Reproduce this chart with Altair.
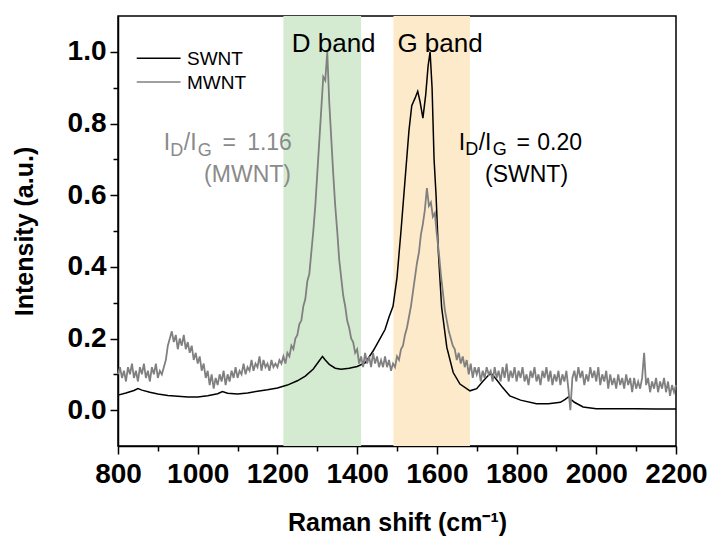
import altair as alt
import pandas as pd

FONT = "Liberation Sans, Arial, sans-serif"

# ---------------- data ----------------
swnt_x = [800, 820, 840, 850, 860, 880, 900, 925, 950, 975, 1000, 1025, 1050, 1062, 1075,
          1100, 1125, 1150, 1175, 1200, 1225, 1250, 1270, 1290, 1305, 1313, 1320, 1330,
          1345, 1360, 1380, 1400, 1420, 1440, 1455, 1470, 1480, 1490, 1500, 1510, 1520,
          1530, 1537, 1545, 1552, 1558, 1565, 1572, 1578, 1583, 1588, 1593, 1598, 1604,
          1612, 1625, 1641, 1658, 1683, 1700, 1715, 1730, 1737, 1750, 1765, 1783, 1810,
          1850, 1880, 1910, 1922, 1930, 1945, 1967, 2000, 2050, 2100, 2150, 2200]
swnt_y = [0.042, 0.048, 0.055, 0.060, 0.056, 0.050, 0.045, 0.041, 0.039, 0.037, 0.037, 0.040,
          0.046, 0.052, 0.047, 0.045, 0.048, 0.053, 0.057, 0.062, 0.070, 0.082, 0.095, 0.115,
          0.138, 0.150, 0.140, 0.128, 0.117, 0.114, 0.117, 0.122, 0.132, 0.165, 0.195, 0.225,
          0.260, 0.290, 0.370, 0.500, 0.640, 0.780, 0.850, 0.870, 0.890, 0.860, 0.815, 0.880,
          0.960, 1.000, 0.900, 0.700, 0.600, 0.436, 0.287, 0.175, 0.105, 0.073, 0.054, 0.060,
          0.080, 0.098, 0.102, 0.085, 0.063, 0.040, 0.028, 0.018, 0.018, 0.022, 0.030, 0.037,
          0.022, 0.009, 0.004, 0.004, 0.004, 0.003, 0.003]

mwnt_x = list(range(800, 2201, 5))
mwnt_y = (
    [0.10, 0.12, 0.09, 0.11, 0.08, 0.12, 0.10, 0.13, 0.09, 0.11, 0.08, 0.12, 0.10, 0.13, 0.09, 0.11, 0.08, 0.12, 0.10, 0.13]
    + [0.09, 0.11, 0.10, 0.12, 0.14, 0.18, 0.20, 0.22, 0.19, 0.21, 0.17, 0.20, 0.18, 0.21, 0.17, 0.19, 0.16, 0.18, 0.14, 0.16]
    + [0.13, 0.15, 0.11, 0.13, 0.09, 0.11, 0.07, 0.10, 0.06, 0.09, 0.07, 0.10, 0.08, 0.11, 0.07, 0.10, 0.08, 0.11, 0.09, 0.12]
    + [0.09, 0.11, 0.10, 0.13, 0.10, 0.12, 0.11, 0.14, 0.11, 0.13, 0.12, 0.15, 0.11, 0.14, 0.12, 0.13, 0.11, 0.14, 0.12, 0.13]
    + [0.12, 0.14, 0.13, 0.15, 0.13, 0.16, 0.15, 0.18, 0.17, 0.20, 0.21, 0.24, 0.25, 0.29, 0.31, 0.36, 0.38, 0.44, 0.50, 0.57]
    + [0.66, 0.75, 0.84, 0.93, 0.92, 1.00, 0.86, 0.76, 0.66, 0.57, 0.50, 0.42, 0.37, 0.32, 0.29, 0.25, 0.23, 0.20, 0.19, 0.16]
    + [0.17, 0.13, 0.15, 0.12, 0.16, 0.13, 0.15, 0.12, 0.16, 0.13, 0.15, 0.12, 0.14, 0.12, 0.15, 0.12, 0.14, 0.11, 0.13, 0.12]
    + [0.15, 0.14, 0.17, 0.18, 0.21, 0.23, 0.26, 0.29, 0.33, 0.37, 0.41, 0.44, 0.49, 0.52, 0.56, 0.62, 0.57, 0.58, 0.54, 0.55]
    + [0.49, 0.44, 0.38, 0.33, 0.28, 0.25, 0.22, 0.20, 0.18, 0.17, 0.14, 0.16, 0.13, 0.15, 0.12, 0.14, 0.10, 0.13, 0.09, 0.12]
    + [0.10, 0.12, 0.08, 0.11, 0.09, 0.12, 0.10, 0.11, 0.08, 0.12, 0.09, 0.11, 0.08, 0.12, 0.09, 0.13, 0.08, 0.11, 0.09, 0.12]
    + [0.08, 0.11, 0.09, 0.12, 0.08, 0.10, 0.07, 0.11, 0.09, 0.12, 0.08, 0.10, 0.07, 0.11, 0.09, 0.12, 0.08, 0.11, 0.07, 0.10]
    + [0.08, 0.11, 0.07, 0.10, 0.08, 0.11, 0.06, 0.00, 0.09, 0.11, 0.08, 0.12, 0.09, 0.11, 0.07, 0.10, 0.08, 0.12, 0.09, 0.11]
    + [0.08, 0.12, 0.07, 0.10, 0.08, 0.11, 0.06, 0.10, 0.07, 0.09, 0.06, 0.10, 0.07, 0.09, 0.06, 0.10, 0.07, 0.09, 0.05, 0.09]
    + [0.06, 0.08, 0.06, 0.09, 0.16, 0.07, 0.09, 0.05, 0.08, 0.06, 0.09, 0.05, 0.08, 0.06, 0.09, 0.05, 0.08, 0.04, 0.07, 0.05]
    + [0.07]
)
assert len(mwnt_x) == len(mwnt_y)

band_names = ["D band", "G band"]
band_start = [1215, 1491]
band_end = [1410, 1683]

series_names = ["SWNT", "MWNT"]

x_ticks = list(range(800, 2201, 100))
y_ticks = [0.0, 0.1, 0.2, 0.3, 0.4, 0.5, 0.6, 0.7, 0.8, 0.9, 1.0]

# ---------------- styles ----------------
BLACK = "#000000"
GRAY = "#808080"
GRAY_TXT = "#8a8a8a"
band_colors = ["#d5ebd1", "#fdeaca"]

swnt_df = pd.DataFrame({"x": swnt_x, "y": swnt_y})
mwnt_df = pd.DataFrame({"x": mwnt_x, "y": mwnt_y})
bands_df = pd.DataFrame({"name": band_names, "start": band_start, "end": band_end})

xscale = alt.Scale(domain=[800, 2200], nice=False, zero=False)
yscale = alt.Scale(domain=[-0.1, 1.1], nice=False, zero=False)

common_axis = dict(
    grid=False, domainColor=BLACK, domainWidth=1.5, tickColor=BLACK, tickWidth=1.5,
    labelFont=FONT, labelFontWeight="bold", labelFontSize=28, labelColor=BLACK,
    titleFont=FONT, titleFontWeight="bold", titleFontSize=25, titleColor=BLACK,
    labelOverlap=False, labelFlush=False, labelBound=False,
)
xaxis = alt.Axis(
    values=x_ticks, format="d",
    labelExpr="datum.value % 200 === 0 ? datum.label : ''",
    tickSize={"condition": {"test": "datum.value % 200 === 0", "value": 8}, "value": 5},
    labelPadding=6, titlePadding=22, **common_axis,
)
yaxis = alt.Axis(
    values=y_ticks, format=".1f",
    labelExpr="round(datum.value * 10) % 2 === 0 ? datum.label : ''",
    tickSize={"condition": {"test": "round(datum.value * 10) % 2 === 0", "value": 8}, "value": 5},
    labelPadding=4, titlePadding=30, **common_axis,
)
XT = "Raman shift (cm\u207b\u00b9)"
YT = "Intensity (a.u.)"


def X(field):
    return alt.X(field, type="quantitative", scale=xscale, axis=xaxis, title=XT)


def Y(field):
    return alt.Y(field, type="quantitative", scale=yscale, axis=yaxis, title=YT)


bands = alt.Chart(bands_df).mark_rect(opacity=1).encode(
    x=X("start"), x2="end",
    color=alt.Color("name:N", scale=alt.Scale(domain=band_names, range=band_colors), legend=None),
)

swnt_line = alt.Chart(swnt_df).mark_line(color=BLACK, strokeWidth=1.5).encode(x=X("x"), y=Y("y"))
mwnt_line = alt.Chart(mwnt_df).mark_line(color=GRAY, strokeWidth=1.8).encode(x=X("x"), y=Y("y"))

# ---------------- annotations ----------------
left_pieces = pd.DataFrame([
    # MWNT ratio (gray)
    ("I", 915, 0.727, 23, GRAY_TXT), ("D", 931, 0.709, 18, GRAY_TXT),
    ("/I", 965, 0.727, 23, GRAY_TXT), ("G", 1000, 0.709, 18, GRAY_TXT),
    ("=", 1062, 0.727, 23, GRAY_TXT), ("1.16", 1124, 0.727, 23, GRAY_TXT),
    # SWNT ratio (black)
    ("I", 1655, 0.725, 23, BLACK), ("D", 1671, 0.711, 18, BLACK),
    ("/I", 1705, 0.725, 23, BLACK), ("G", 1740, 0.711, 18, BLACK),
    ("=", 1800, 0.725, 23, BLACK), ("0.20", 1852, 0.725, 23, BLACK),
    # legend labels
    ("SWNT", 973, 0.963, 19, BLACK), ("MWNT", 973, 0.897, 19, BLACK),
], columns=["t", "x", "y", "s", "c"])

center_pieces = pd.DataFrame([
    ("(MWNT)", 1125, 0.636, 23, GRAY_TXT), ("(SWNT)", 1825, 0.636, 23, BLACK),
    ("D band", 1341, 1.0, 26, BLACK), ("G band", 1608, 1.0, 26, BLACK),
], columns=["t", "x", "y", "s", "c"])

left_text = alt.Chart(left_pieces).mark_text(align="left", baseline="alphabetic", font=FONT).encode(
    x=X("x"), y=Y("y"), text="t:N",
    size=alt.Size("s:Q", scale=None), color=alt.Color("c:N", scale=None),
)
center_text = alt.Chart(center_pieces).mark_text(align="center", baseline="alphabetic", font=FONT).encode(
    x=X("x"), y=Y("y"), text="t:N",
    size=alt.Size("s:Q", scale=None), color=alt.Color("c:N", scale=None),
)

legend_df = pd.DataFrame({
    "name": series_names, "x0": [847, 847], "x1": [957, 957], "y": [0.982, 0.916], "c": [BLACK, GRAY],
})
legend_lines = alt.Chart(legend_df).mark_rule(strokeWidth=1.6).encode(
    x=X("x0"), x2="x1", y=Y("y"), color=alt.Color("c:N", scale=None),
)

chart = alt.layer(bands, swnt_line, mwnt_line, legend_lines, left_text, center_text).properties(
    width=558, height=430,
    autosize=alt.AutoSizeParams(type="none"),
    padding={"left": 118, "top": 16, "right": 33, "bottom": 92},
    background="white",
).configure_view(stroke=BLACK, strokeWidth=1.5)

chart.save("out.html", embed_options={"renderer": "svg", "actions": False})
